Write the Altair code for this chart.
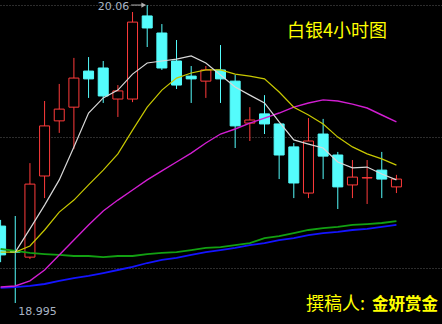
import altair as alt
import pandas as pd

# ---- candle data (4h silver) ----
idx = list(range(28))
opens = [19.270, 19.178, 19.159, 19.449, 19.646, 19.695, 19.824, 19.835, 19.724, 19.724,
         20.021, 19.960, 19.860, 19.806, 19.788, 19.828, 19.788, 19.638, 19.671, 19.635,
         19.553, 19.388, 19.599, 19.524, 19.417, 19.442, 19.470, 19.410]
highs = [19.292, 19.306, 19.495, 19.717, 19.778, 19.871, 19.874, 19.860, 19.774, 20.035,
         20.060, 19.992, 19.935, 19.842, 19.842, 19.917, 19.810, 19.695, 19.738, 19.635,
         19.567, 19.656, 19.653, 19.535, 19.506, 19.506, 19.535, 19.453]
lows = [19.141, 18.995, 19.152, 19.370, 19.603, 19.545, 19.728, 19.710, 19.660, 19.713,
        19.910, 19.828, 19.760, 19.710, 19.728, 19.710, 19.549, 19.574, 19.599, 19.438,
        19.370, 19.370, 19.438, 19.331, 19.370, 19.349, 19.370, 19.388]
closes = [19.167, 19.177, 19.420, 19.628, 19.688, 19.799, 19.796, 19.735, 19.753, 19.999,
          19.978, 19.835, 19.774, 19.796, 19.828, 19.796, 19.628, 19.649, 19.635, 19.524,
          19.424, 19.574, 19.520, 19.410, 19.445, 19.443, 19.438, 19.438]

# ---- moving averages ----
ma_white = [None, 19.177, 19.260, 19.345, 19.435, 19.553, 19.674, 19.728, 19.756, 19.813,
            19.853, 19.860, 19.867, 19.878, 19.853, 19.810, 19.767, 19.738, 19.710, 19.642,
            19.578, 19.563, 19.549, 19.499, 19.478, 19.481, 19.456, 19.435]
ma_yellow = [19.177, 19.177, 19.199, 19.256, 19.320, 19.363, 19.417, 19.470, 19.528, 19.613,
             19.695, 19.756, 19.799, 19.817, 19.828, 19.828, 19.813, 19.806, 19.796, 19.749,
             19.695, 19.667, 19.635, 19.588, 19.553, 19.528, 19.510, 19.488]
ma_magenta = [19.052, 19.056, 19.074, 19.113, 19.167, 19.220, 19.274, 19.324, 19.363, 19.399,
              19.435, 19.467, 19.499, 19.531, 19.567, 19.599, 19.617, 19.638, 19.656, 19.674,
              19.695, 19.710, 19.721, 19.717, 19.706, 19.692, 19.667, 19.642]
ma_green = [19.188, 19.181, 19.174, 19.170, 19.167, 19.163, 19.163, 19.159, 19.163, 19.163,
            19.170, 19.174, 19.177, 19.184, 19.192, 19.195, 19.202, 19.209, 19.227, 19.234,
            19.245, 19.256, 19.263, 19.267, 19.274, 19.277, 19.281, 19.288]
ma_blue = [19.049, 19.052, 19.056, 19.063, 19.074, 19.084, 19.092, 19.102, 19.113, 19.124,
           19.138, 19.149, 19.156, 19.167, 19.177, 19.184, 19.192, 19.202, 19.209, 19.220,
           19.227, 19.238, 19.245, 19.249, 19.256, 19.260, 19.267, 19.274]

grid_values = [20.06, 19.588, 19.120]
title_text = "白银4小时图"
author_label = "撰稿人:"
author_name = "金妍赏金"

RED = "#ff3b3b"
CYAN = "#54fcfc"

df = pd.DataFrame({"i": idx, "open": opens, "high": highs, "low": lows, "close": closes})
df["dir"] = ["up" if c > o else "down" for o, c in zip(opens, closes)]

hi_i = int(df["high"].idxmax())
lo_i = int(df["low"].idxmin())
extremes = pd.DataFrame({
    "i": [hi_i, lo_i],
    "p": [df["high"].max(), df["low"].min()],
    "t": [f"{df['high'].max():.2f}", f"{df['low'].min():.3f}"],
    "kind": ["hi", "lo"],
})

xs = alt.Scale(domain=[0.3, 29.767], nice=False, zero=False)
ys = alt.Scale(domain=[18.920, 20.078], nice=False, zero=False)
X = alt.X("i:Q", scale=xs, axis=None)

base = alt.Chart(df)

wicks = base.mark_rule(strokeWidth=1, clip=True).encode(
    x=X,
    y=alt.Y("high:Q", scale=ys,
            axis=alt.Axis(values=grid_values, labels=False, ticks=False, domain=False,
                          grid=True, gridColor="#5a5a5a", gridDash=[1, 2], gridWidth=1,
                          title=None)),
    y2="low:Q",
    color=alt.Color("dir:N", scale=alt.Scale(domain=["up", "down"], range=[RED, CYAN]), legend=None),
)

up_bodies = base.transform_filter("datum.dir == 'up'").mark_bar(
    size=10, fill="#000000", stroke=RED, strokeWidth=1, clip=True
).encode(x=X, y=alt.Y("close:Q", scale=ys), y2="open:Q")

down_bodies = base.transform_filter("datum.dir == 'down'").mark_bar(
    size=10, fill=CYAN, stroke=CYAN, strokeWidth=1, clip=True
).encode(x=X, y=alt.Y("open:Q", scale=ys), y2="close:Q")

def ma_layer(vals, color, width):
    d = pd.DataFrame({"i": [k for k, v in zip(idx, vals) if v is not None],
                      "v": [v for v in vals if v is not None]})
    return alt.Chart(d).mark_line(color=color, strokeWidth=width, clip=True).encode(
        x=X, y=alt.Y("v:Q", scale=ys))

lines = [
    ma_layer(ma_blue, "#1414ff", 1.8),
    ma_layer(ma_green, "#12a012", 1.8),
    ma_layer(ma_magenta, "#d21ed2", 1.4),
    ma_layer(ma_yellow, "#c8c800", 1.2),
    ma_layer(ma_white, "#d8d8d8", 1.2),
]

ex = alt.Chart(extremes)
hi_text = ex.transform_filter("datum.kind == 'hi'").mark_text(
    align="right", baseline="middle", dx=-18, dy=2, fontSize=11,
    font="DejaVu Sans", color="#a8b4c4"
).encode(x=X, y=alt.Y("p:Q", scale=ys), text="t:N")
hi_arrow = ex.transform_filter("datum.kind == 'hi'").transform_calculate(
    a="datum.i - 1.1", b="datum.i - 0.2"
).mark_rule(color="#b0b0b0", strokeWidth=1).encode(
    x=alt.X("a:Q", scale=xs, axis=None), x2="b:Q", y=alt.Y("p:Q", scale=ys))
hi_head = ex.transform_filter("datum.kind == 'hi'").transform_calculate(
    a="datum.i - 0.24"
).mark_point(shape="triangle-right", filled=True, size=28, color="#b0b0b0", opacity=1).encode(
    x=alt.X("a:Q", scale=xs, axis=None), y=alt.Y("p:Q", scale=ys))
lo_text = ex.transform_filter("datum.kind == 'lo'").mark_text(
    align="left", baseline="middle", dx=3, dy=9, fontSize=11,
    font="DejaVu Sans", color="#a8b4c4"
).encode(x=X, y=alt.Y("p:Q", scale=ys), text="t:N")

title = alt.Chart(pd.DataFrame({"t": [title_text]})).mark_text(
    align="left", baseline="middle", fontSize=18, font="Noto Sans CJK SC", color="#ffff00"
).encode(x=alt.value(287), y=alt.value(32), text="t:N")

auth1 = alt.Chart(pd.DataFrame({"t": [author_label]})).mark_text(
    align="left", baseline="middle", fontSize=18, font="Noto Sans CJK SC", color="#ffff00"
).encode(x=alt.value(306), y=alt.value(305), text="t:N")
auth2 = alt.Chart(pd.DataFrame({"t": [author_name]})).mark_text(
    align="right", baseline="middle", fontSize=16.5, fontWeight="bold",
    font="Noto Sans CJK SC", color="#ffff00"
).encode(x=alt.value(438), y=alt.value(305), text="t:N")

chart = alt.layer(
    wicks, up_bodies, down_bodies, *lines,
    hi_text, hi_arrow, hi_head, lo_text, title, auth1, auth2
).properties(
    width=442, height=324, background="#000000", padding=0,
    autosize=alt.AutoSizeParams(type="none")
).configure_view(stroke=None)

chart.save("out.html", embed_options={"renderer": "svg", "actions": False})
